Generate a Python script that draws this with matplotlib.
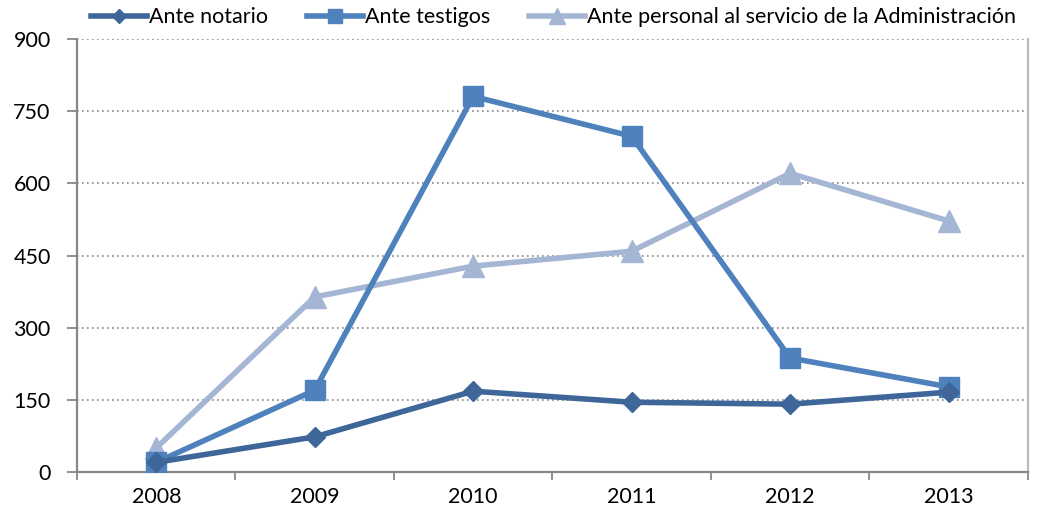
import matplotlib
matplotlib.use("Agg")
import matplotlib.pyplot as plt
import numpy as np

plt.rcParams['font.family'] = ['Lato', 'DejaVu Sans']

years = ["2008", "2009", "2010", "2011", "2012", "2013"]
notario = [20, 73, 168, 145, 141, 166]
testigos = [20, 170, 781, 698, 237, 177]
personal = [50, 364, 428, 459, 621, 522]

fig = plt.figure(figsize=(10.38, 5.19), dpi=100)
ax = fig.add_axes([0.0742, 0.0906, 0.916, 0.834])

x = np.arange(len(years))
ax.plot(x, personal, color="#A5B6D4", lw=4, marker="^", ms=16, label="Ante personal al servicio de la Administración", zorder=3)
ax.plot(x, testigos, color="#4F81BD", lw=4, marker="s", ms=15, label="Ante testigos", zorder=4)
ax.plot(x, notario, color="#3E6699", lw=4, marker="D", ms=10.5, label="Ante notario", zorder=5)

ax.set_xlim(-0.5, len(years) - 0.5)
ax.set_ylim(0, 900)
ax.set_yticks(range(0, 901, 150))
ax.set_xticks(x)
ax.set_xticklabels(years)
ax.set_xticks(np.arange(-0.5, len(years), 1), minor=True)
ax.tick_params(axis="x", which="major", length=0, pad=11)
ax.tick_params(axis="x", which="minor", length=6, color="#888888", width=1.3)
ax.tick_params(axis="y", length=7, color="#888888", width=1.3, pad=12)
ax.tick_params(labelsize=15.5)
ax.grid(axis="y", linestyle=(0, (1, 2)), color="#888888", lw=1.2)

for side in ["left", "bottom"]:
    ax.spines[side].set_color("#888888")
    ax.spines[side].set_linewidth(1.6)
ax.spines["right"].set_color("#BBBBBB")
ax.spines["right"].set_linewidth(1.6)
ax.spines["top"].set_visible(False)

handles, labels = ax.get_legend_handles_labels()
order = [2, 1, 0]
fig.legend([handles[i] for i in order], [labels[i] for i in order],
           loc="upper left", bbox_to_anchor=(89 / 1038, 0.99), ncol=3, frameon=False,
           fontsize=15.5, handlelength=2.6, handletextpad=0.1, columnspacing=1.8,
           borderaxespad=0, borderpad=0.1, markerscale=0.7)

fig.savefig("out.png", dpi=100)
